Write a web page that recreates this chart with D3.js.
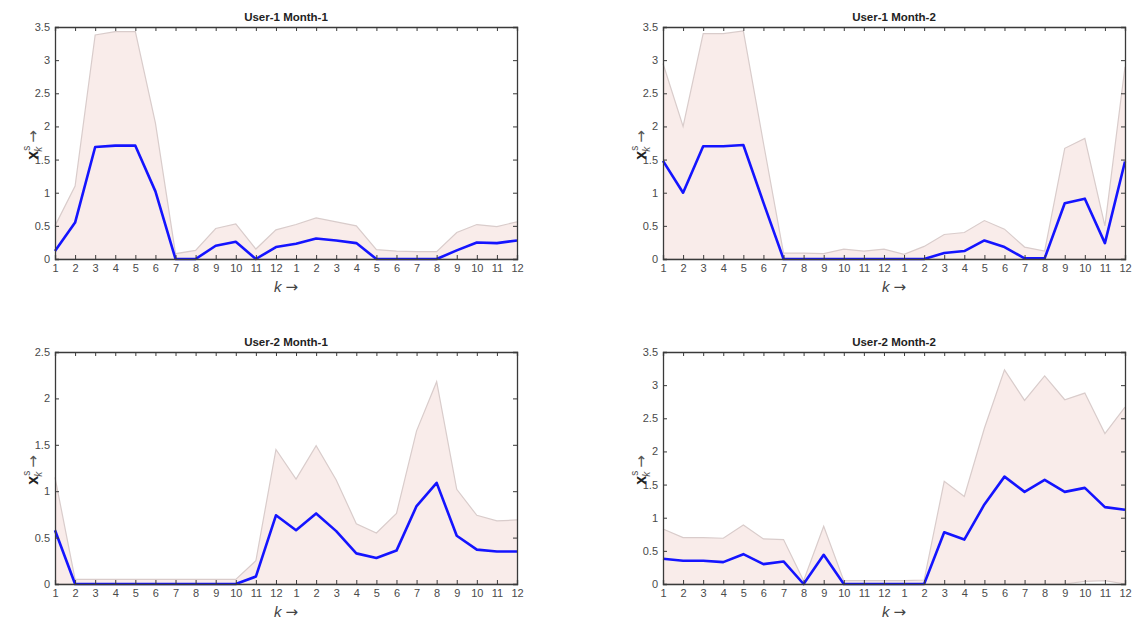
<!DOCTYPE html>
<html>
<head>
<meta charset="utf-8">
<script src="https://cdn.jsdelivr.net/npm/d3@7"></script>
<style>
  body { margin: 0; background: #fff; }
  svg { font-family: "Liberation Sans", Arial, sans-serif; }
  .arrow { font-family: "DejaVu Sans", sans-serif; }
</style>
</head>
<body>
<div id="chart"></div>
<script>
// month tick labels (two years, k = 1..24)
const months = ["1","2","3","4","5","6","7","8","9","10","11","12",
                "1","2","3","4","5","6","7","8","9","10","11","12"];

// User-1 Month-1
const u1m1Mean  = [0.12,0.55,1.69,1.71,1.71,1.02,0,0,0.2,0.26,0,0.18,0.23,0.31,0.28,0.24,0,0,0,0,0.13,0.25,0.24,0.28];
const u1m1Upper = [0.5,1.1,3.38,3.43,3.43,2.05,0.08,0.13,0.46,0.53,0.15,0.44,0.52,0.62,0.56,0.5,0.14,0.12,0.11,0.11,0.4,0.52,0.49,0.56];
const u1m1Lower = [0,0,0,0,0,0,0,0,0,0,0,0,0,0,0,0,0,0,0,0,0,0,0,0];

// User-1 Month-2
const u1m2Mean  = [1.48,1.0,1.7,1.7,1.72,0.85,0,0,0,0,0,0,0,0,0.09,0.12,0.28,0.18,0.01,0.01,0.84,0.91,0.24,1.47];
const u1m2Upper = [2.95,2.0,3.4,3.4,3.44,1.75,0.09,0.09,0.08,0.15,0.12,0.15,0.07,0.19,0.37,0.4,0.58,0.45,0.18,0.12,1.67,1.82,0.5,2.9];
const u1m2Lower = [0,0,0,0,0,0,0,0,0,0,0,0,0,0,0,0,0,0,0,0,0,0,0,0];

// User-2 Month-1
const u2m1Mean  = [0.58,0,0,0,0,0,0,0,0,0,0.08,0.74,0.58,0.76,0.57,0.33,0.28,0.36,0.84,1.09,0.52,0.37,0.35,0.35];
const u2m1Upper = [1.15,0.05,0.05,0.05,0.05,0.05,0.05,0.05,0.05,0.05,0.25,1.45,1.13,1.49,1.12,0.65,0.55,0.76,1.65,2.18,1.02,0.74,0.68,0.69];
const u2m1Lower = [0,0,0,0,0,0,0,0,0,0,0,0,0,0,0,0,0,0,0,0,0,0,0,0];

// User-2 Month-2
const u2m2Mean  = [0.38,0.35,0.35,0.33,0.45,0.3,0.34,0,0.44,0,0,0,0,0,0.78,0.67,1.2,1.62,1.39,1.57,1.39,1.45,1.16,1.12];
const u2m2Upper = [0.83,0.7,0.7,0.69,0.89,0.68,0.67,0.05,0.87,0.05,0.05,0.05,0.05,0.06,1.55,1.32,2.35,3.23,2.77,3.14,2.78,2.88,2.27,2.67];
const u2m2Lower = [0,0,0,0,0,0,0,0,0,0,0,0,0,0,0,0,0,0,0,0,0,0.04,0.05,0];

const panels = [
  { title: "User-1 Month-1", mean: u1m1Mean, upper: u1m1Upper, lower: u1m1Lower, ymax: 3.5, left: 55,  top: 27 },
  { title: "User-1 Month-2", mean: u1m2Mean, upper: u1m2Upper, lower: u1m2Lower, ymax: 3.5, left: 663, top: 27 },
  { title: "User-2 Month-1", mean: u2m1Mean, upper: u2m1Upper, lower: u2m1Lower, ymax: 2.5, left: 55,  top: 352 },
  { title: "User-2 Month-2", mean: u2m2Mean, upper: u2m2Upper, lower: u2m2Lower, ymax: 3.5, left: 663, top: 352 }
];

const W = 1141, H = 631;
const pw = 462, ph = 232;

const svg = d3.select("#chart")
    .append("svg")
    .attr("width", W)
    .attr("height", H);

panels.forEach(function (p) {
    const g = svg.append("g")
        .attr("transform", `translate(${p.left},${p.top})`);

    const x = d3.scaleLinear()
        .domain([0, months.length - 1])
        .range([0, pw]);
    const y = d3.scaleLinear()
        .domain([0, p.ymax])
        .range([ph, 0]);

    // shaded band between lower and upper
    const area = d3.area()
        .x(function (d, i) { return x(i); })
        .y0(function (d, i) { return y(Math.max(0, p.lower[i])); })
        .y1(function (d) { return y(d); });
    g.append("path")
        .datum(p.upper)
        .attr("d", area)
        .attr("fill", "#f9ecea");

    const line = d3.line()
        .x(function (d, i) { return x(i); })
        .y(function (d) { return y(d); });

    g.append("path")
        .datum(p.upper)
        .attr("d", line)
        .attr("fill", "none")
        .attr("stroke", "#d9cccb")
        .attr("stroke-width", 1.2);
    g.append("path")
        .datum(p.lower)
        .attr("d", line)
        .attr("fill", "none")
        .attr("stroke", "#d9cccb")
        .attr("stroke-width", 1.2);

    // mean line
    g.append("path")
        .datum(p.mean)
        .attr("d", line)
        .attr("fill", "none")
        .attr("stroke", "#1414ff")
        .attr("stroke-width", 2.6)
        .attr("stroke-linejoin", "round");

    const yTicks = d3.range(0, p.ymax + 0.001, 0.5);
    const xTicks = d3.range(months.length);

    // axes, MATLAB style box with inward ticks
    const xb = g.append("g")
        .attr("transform", `translate(0,${ph})`)
        .call(d3.axisBottom(x).tickValues(xTicks).tickFormat(function (i) { return months[i]; })
            .tickSize(-4).tickPadding(5));
    const xt = g.append("g")
        .call(d3.axisTop(x).tickValues(xTicks).tickFormat("").tickSize(-4));
    const yl = g.append("g")
        .call(d3.axisLeft(y).tickValues(yTicks).tickFormat(function (d) { return d; })
            .tickSize(-4).tickPadding(5));
    const yr = g.append("g")
        .attr("transform", `translate(${pw},0)`)
        .call(d3.axisRight(y).tickValues(yTicks).tickFormat("").tickSize(-4));

    [xb, xt, yl, yr].forEach(function (a) {
        a.select(".domain").attr("stroke", "#3a3a3a").attr("stroke-width", 1.3);
        a.selectAll(".tick line").attr("stroke", "#3a3a3a");
        a.selectAll("text")
            .attr("fill", "#4a4a4a")
            .style("font-size", "11px");
    });

    // title
    g.append("text")
        .attr("x", pw / 2)
        .attr("y", -6)
        .attr("text-anchor", "middle")
        .style("font-size", "11.5px")
        .style("font-weight", "bold")
        .attr("fill", "#222")
        .text(p.title);

    // x label
    const xl = g.append("text")
        .attr("x", pw / 2)
        .attr("y", ph + 33)
        .attr("text-anchor", "middle")
        .attr("fill", "#444")
        .style("font-size", "15px");
    xl.append("tspan").style("font-style", "italic").text("k ");
    xl.append("tspan").attr("class", "arrow").style("font-size", "15px").text("\u2192");

    // y label
    const ylab = g.append("text")
        .attr("transform", `translate(-17,${ph / 2 + 2}) rotate(-90)`)
        .attr("text-anchor", "middle")
        .attr("fill", "#222")
        .style("font-size", "16px");
    ylab.append("tspan").style("font-weight", "bold").text("x");
    ylab.append("tspan").attr("dy", -8).style("font-size", "10px").attr("fill", "#555").text("s");
    ylab.append("tspan").attr("dx", -6).attr("dy", 12).style("font-size", "10px").style("font-style", "italic").attr("fill", "#555").text("k");
    ylab.append("tspan").attr("class", "arrow").attr("dy", -4).attr("dx", 4).style("font-size", "15px").attr("fill", "#555").text("\u2192");
});
</script>
</body>
</html>
